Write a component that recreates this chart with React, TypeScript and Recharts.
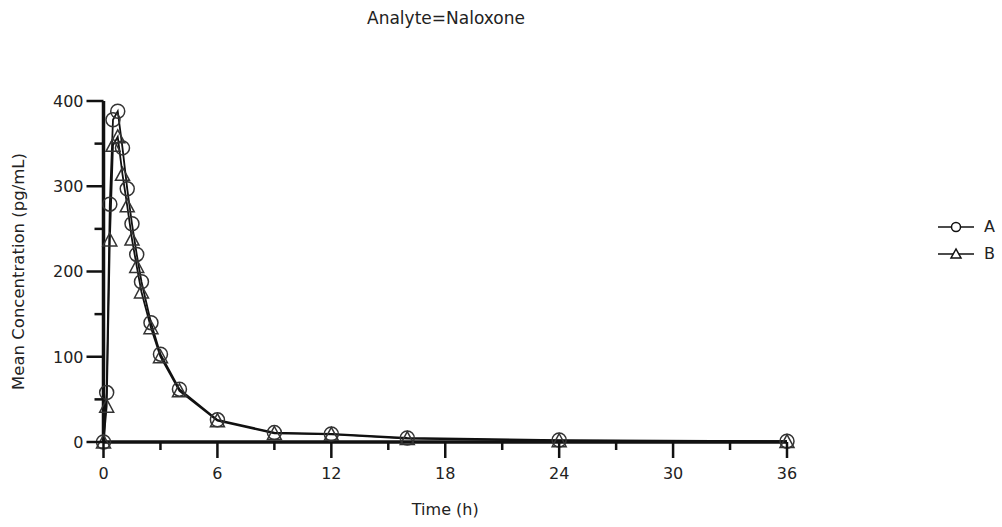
import React from 'react';
import { LineChart, Line, XAxis, YAxis } from 'recharts';

// sampling times (h) and mean concentrations (pg/mL)
const times = [0, 0.167, 0.333, 0.5, 0.75, 1, 1.25, 1.5, 1.75, 2, 2.5, 3, 4, 6, 9, 12, 16, 24, 36];
const seriesA = [0, 58, 279, 378, 388, 345, 297, 256, 220, 188, 140, 103, 62, 26, 11, 9.5, 4.7, 2.3, 1];
const seriesB = [0, 42, 237, 348, 358, 314, 277, 238, 206, 176, 134, 100, 60, 25, 10, 9, 4, 1.5, 0.5];

const xTicks = [0, 3, 6, 9, 12, 15, 18, 21, 24, 27, 30, 33, 36];
const xMajor = [0, 6, 12, 18, 24, 30, 36];
const yTicks = [0, 50, 100, 150, 200, 250, 300, 350, 400];
const yMajor = [0, 100, 200, 300, 400];

const data = times.map((t, i) => ({ time: t, A: seriesA[i], B: seriesB[i] }));

const FONT = '"DejaVu Sans", Verdana, sans-serif';
const INK = '#111';

const XTick = (props: any) => {
  const { x, y, payload } = props;
  const major = xMajor.includes(payload.value);
  return (
    <g>
      <line x1={x} y1={y} x2={x} y2={y + (major ? 16 : 8)} stroke={INK} strokeWidth={2.5} />
      {major && (
        <text x={x} y={y + 37} textAnchor="middle" fontSize={16} fontFamily={FONT} fill="#222">
          {payload.value}
        </text>
      )}
    </g>
  );
};

const YTick = (props: any) => {
  const { x, y, payload } = props;
  const major = yMajor.includes(payload.value);
  return (
    <g>
      <line x1={x - (major ? 17 : 9)} y1={y} x2={x} y2={y} stroke={INK} strokeWidth={2.5} />
      {major && (
        <text x={x - 20} y={y} dy="0.36em" textAnchor="end" fontSize={16} fontFamily={FONT} fill="#222">
          {payload.value}
        </text>
      )}
    </g>
  );
};

const CircleDot = (props: any) => {
  const { cx, cy, index } = props;
  return <circle key={`a-${index}`} cx={cx} cy={cy} r={7} fill="none" stroke="#333" strokeWidth={1.5} />;
};

const TriangleDot = (props: any) => {
  const { cx, cy, index } = props;
  return (
    <path
      key={`b-${index}`}
      d={`M${cx},${cy - 7}L${cx - 7},${cy + 6}L${cx + 7},${cy + 6}Z`}
      fill="none"
      stroke="#333"
      strokeWidth={1.5}
    />
  );
};

function LegendRow({ label, marker }: { label: string; marker: 'circle' | 'triangle' }) {
  return (
    <div style={{ display: 'flex', alignItems: 'center', height: 27 }}>
      <svg width={38} height={14}>
        <line x1={0} y1={7} x2={36} y2={7} stroke={INK} strokeWidth={1.5} />
        {marker === 'circle' ? (
          <circle cx={18} cy={7} r={4.5} fill="#fff" stroke={INK} strokeWidth={1.5} />
        ) : (
          <path d="M18,2L13,11L23,11Z" fill="#fff" stroke={INK} strokeWidth={1.5} />
        )}
      </svg>
      <span style={{ marginLeft: 8, fontSize: 16, fontFamily: FONT, color: '#222' }}>{label}</span>
    </div>
  );
}

export default function App() {
  return (
    <div style={{ position: 'absolute', left: 0, top: 0, width: 1002, height: 527, background: '#fff' }}>
      <div
        style={{
          position: 'absolute',
          left: 0,
          top: 8,
          width: 892,
          textAlign: 'center',
          fontSize: 17,
          fontFamily: FONT,
          color: '#222',
        }}
      >
        Analyte=Naloxone
      </div>
      <LineChart width={1002} height={527} data={data} margin={{ top: 101, right: 215, left: 43.5, bottom: 45 }}>
        <XAxis
          dataKey="time"
          type="number"
          domain={[0, 36]}
          ticks={xTicks}
          interval={0}
          height={40}
          tickSize={0}
          tickMargin={0}
          tickLine={false}
          tick={<XTick />}
          axisLine={{ stroke: INK, strokeWidth: 3.5 }}
          label={{ value: 'Time (h)', position: 'bottom', offset: 22, fontSize: 16, fontFamily: FONT, fill: '#222' }}
        />
        <YAxis
          type="number"
          domain={[0, 400]}
          ticks={yTicks}
          interval={0}
          width={60}
          tickSize={0}
          tickMargin={0}
          tickLine={false}
          tick={<YTick />}
          axisLine={{ stroke: INK, strokeWidth: 3.5 }}
          label={{
            value: 'Mean Concentration (pg/mL)',
            position: 'left',
            angle: -90,
            offset: 25,
            fontSize: 16.5,
            fontFamily: FONT,
            fill: '#222',
            style: { textAnchor: 'middle' },
          }}
        />
        <Line
          dataKey="A"
          name="A"
          type="linear"
          stroke={INK}
          strokeWidth={1.8}
          dot={CircleDot}
          activeDot={false}
          isAnimationActive={false}
        />
        <Line
          dataKey="B"
          name="B"
          type="linear"
          stroke={INK}
          strokeWidth={1.8}
          dot={TriangleDot}
          activeDot={false}
          isAnimationActive={false}
        />
      </LineChart>
      <div style={{ position: 'absolute', left: 938, top: 213 }}>
        <LegendRow label="A" marker="circle" />
        <LegendRow label="B" marker="triangle" />
      </div>
    </div>
  );
}
